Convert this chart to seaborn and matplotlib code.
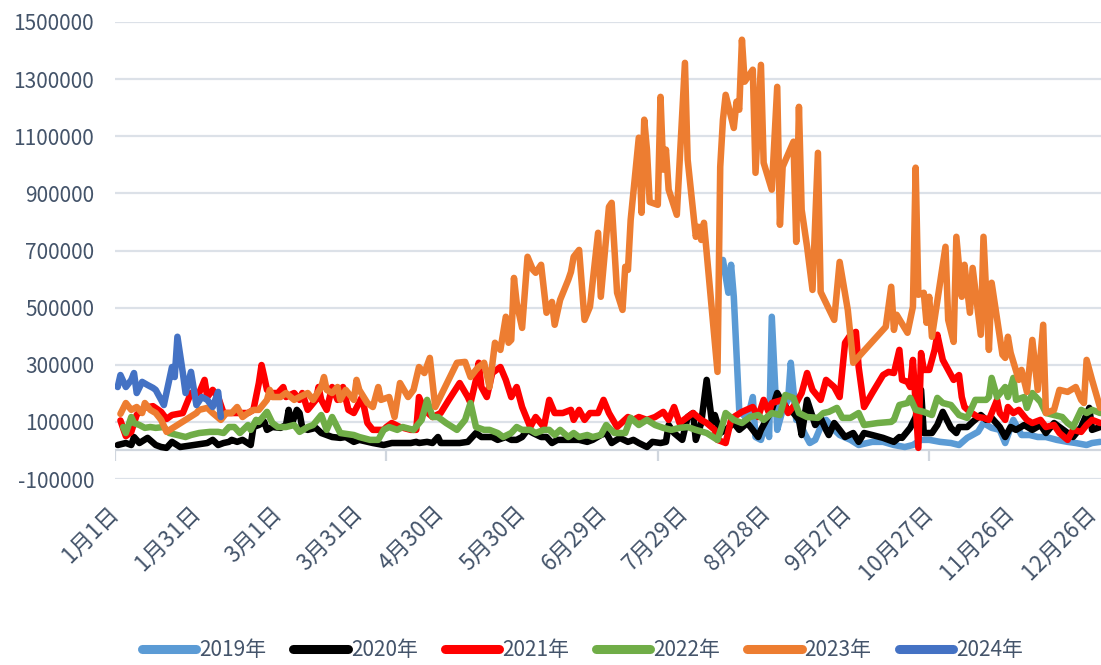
import matplotlib
matplotlib.use("Agg")
import matplotlib.pyplot as plt
import pandas as pd
import seaborn as sns
from matplotlib.lines import Line2D

sns.set_theme(style="white")
plt.rcParams["font.family"] = ["Noto Sans CJK SC", "DejaVu Sans"]

YEARS = ["2019年", "2020年", "2021年", "2022年", "2023年", "2024年"]
COLORS = ["#5B9BD5", "#000000", "#FF0000", "#70AD47", "#ED7D31", "#4472C4"]

# day of year (0 = Jan 1) and daily value for each year
DAYS_2019 = [224, 226, 227, 228, 230, 233, 235, 236, 238, 240, 241, 242, 244, 246, 248, 249,
             251, 252, 254, 256, 258, 260, 262, 265, 267, 271, 274, 279, 283, 287, 291, 294,
             297, 300, 304, 308, 311, 314, 318, 320, 323, 326, 328, 331, 334, 337, 340, 343,
             347, 351, 354, 358, 360, 363]
VALUES_2019 = [667000, 552000, 650000, 538000, 142000, 107000, 187000, 47000, 37000, 107000,
               47000, 468000, 72000, 142000, 177000, 307000, 107000, 107000, 61000, 26000,
               37000, 82000, 107000, 72000, 54000, 37000, 19000, 30000, 30000, 19000, 12000,
               19000, 37000, 37000, 30000, 26000, 19000, 44000, 65000, 96000, 79000, 72000,
               26000, 107000, 54000, 54000, 47000, 47000, 37000, 30000, 26000, 19000, 26000,
               30000]

DAYS_2020 = [1, 4, 6, 7, 9, 12, 15, 17, 19, 21, 24, 29, 34, 36, 38, 40, 42, 43, 45, 47, 50,
             51, 53, 55, 56, 58, 61, 63, 64, 65, 67, 68, 69, 71, 74, 76, 78, 80, 83, 85, 88,
             90, 95, 99, 102, 106, 109, 111, 112, 115, 117, 119, 120, 123, 127, 130, 133, 135,
             137, 139, 141, 144, 146, 148, 150, 152, 154, 157, 159, 161, 163, 166, 168, 171,
             174, 176, 179, 181, 183, 186, 189, 191, 193, 196, 198, 201, 203, 204, 206, 209,
             211, 213, 214, 216, 218, 220, 221, 223, 225, 228, 230, 233, 235, 237, 238, 240,
             242, 244, 246, 248, 250, 252, 253, 255, 258, 260, 262, 263, 265, 267, 269, 272,
             274, 276, 279, 283, 287, 289, 290, 293, 295, 297, 298, 301, 303, 305, 308, 310,
             311, 314, 316, 319, 321, 323, 326, 328, 330, 332, 335, 338, 341, 343, 346, 348,
             351, 353, 356, 359, 360, 363]
VALUES_2020 = [19000, 26000, 19000, 47000, 26000, 44000, 19000, 12000, 9000, 30000, 12000,
               19000, 26000, 37000, 19000, 26000, 30000, 37000, 30000, 37000, 19000, 82000,
               89000, 100000, 72000, 82000, 79000, 89000, 142000, 89000, 142000, 131000, 79000,
               72000, 79000, 61000, 54000, 47000, 44000, 47000, 30000, 37000, 26000, 19000,
               26000, 26000, 26000, 30000, 26000, 30000, 26000, 47000, 26000, 26000, 26000,
               30000, 61000, 47000, 47000, 47000, 37000, 47000, 37000, 37000, 47000, 72000,
               61000, 47000, 47000, 26000, 37000, 37000, 37000, 37000, 30000, 37000, 54000,
               61000, 26000, 44000, 30000, 37000, 26000, 12000, 30000, 26000, 30000, 89000,
               61000, 37000, 117000, 131000, 37000, 96000, 247000, 96000, 124000, 61000, 72000,
               96000, 72000, 96000, 72000, 47000, 72000, 107000, 142000, 201000, 166000,
               142000, 131000, 107000, 54000, 177000, 89000, 114000, 72000, 54000, 96000,
               72000, 47000, 61000, 30000, 61000, 54000, 44000, 30000, 47000, 44000, 79000,
               117000, 212000, 61000, 61000, 89000, 135000, 79000, 61000, 82000, 82000, 100000,
               124000, 107000, 114000, 82000, 47000, 82000, 72000, 89000, 72000, 89000, 61000,
               96000, 82000, 61000, 47000, 82000, 149000, 72000, 82000]

DAYS_2021 = [2, 4, 6, 8, 11, 14, 17, 19, 21, 25, 27, 28, 31, 33, 34, 36, 38, 40, 43, 49, 51,
             53, 54, 55, 56, 58, 60, 62, 63, 66, 68, 69, 71, 74, 75, 76, 78, 80, 82, 84, 86,
             88, 91, 93, 95, 99, 100, 102, 105, 109, 111, 112, 114, 117, 120, 123, 127, 130,
             131, 133, 134, 135, 137, 139, 142, 144, 146, 148, 150, 153, 155, 158, 160, 162,
             165, 168, 169, 171, 173, 175, 178, 180, 182, 185, 189, 191, 193, 196, 199, 202,
             204, 206, 208, 211, 213, 216, 218, 221, 222, 225, 227, 228, 231, 235, 237, 239,
             241, 242, 246, 248, 251, 253, 255, 257, 260, 262, 265, 267, 269, 271, 273, 274,
             276, 279, 283, 285, 287, 289, 290, 292, 293, 294, 296, 297, 298, 300, 302, 303,
             305, 307, 309, 311, 312, 313, 315, 318, 320, 322, 325, 326, 328, 329, 331, 333,
             336, 338, 341, 343, 346, 348, 351, 353, 356, 358, 360, 363]
VALUES_2021 = [105000, 50000, 65000, 125000, 150000, 155000, 135000, 110000, 124000, 131000,
               177000, 201000, 201000, 247000, 187000, 212000, 187000, 131000, 131000, 131000,
               142000, 236000, 299000, 257000, 212000, 201000, 201000, 222000, 187000, 201000,
               177000, 201000, 142000, 177000, 222000, 177000, 142000, 222000, 177000, 222000,
               142000, 131000, 187000, 96000, 72000, 72000, 82000, 96000, 82000, 72000, 72000,
               187000, 142000, 117000, 131000, 177000, 236000, 187000, 166000, 247000, 307000,
               222000, 187000, 271000, 292000, 247000, 187000, 222000, 152000, 82000, 117000,
               82000, 177000, 131000, 131000, 142000, 107000, 142000, 107000, 131000, 131000,
               177000, 131000, 82000, 117000, 107000, 117000, 107000, 117000, 135000, 107000,
               152000, 96000, 117000, 131000, 107000, 96000, 72000, 37000, 26000, 107000,
               117000, 135000, 152000, 117000, 177000, 131000, 166000, 177000, 131000, 166000,
               201000, 271000, 212000, 177000, 247000, 222000, 187000, 377000, 405000, 415000,
               292000, 152000, 201000, 264000, 275000, 271000, 352000, 247000, 240000, 222000,
               317000, 9000, 341000, 282000, 282000, 352000, 405000, 317000, 282000, 247000,
               264000, 187000, 152000, 135000, 117000, 114000, 107000, 177000, 131000, 107000,
               152000, 131000, 142000, 107000, 96000, 107000, 82000, 89000, 61000, 37000,
               72000, 65000, 89000, 107000, 96000]

DAYS_2022 = [3, 4, 6, 7, 9, 11, 13, 15, 18, 20, 23, 26, 28, 31, 35, 38, 40, 42, 44, 46, 49,
             50, 52, 53, 56, 58, 60, 63, 66, 68, 71, 73, 76, 78, 80, 83, 88, 90, 94, 97, 99,
             101, 104, 106, 110, 113, 115, 117, 119, 122, 126, 129, 131, 133, 136, 138, 141,
             143, 146, 148, 150, 153, 155, 158, 160, 162, 164, 167, 169, 171, 174, 176, 179,
             181, 184, 188, 190, 193, 196, 199, 202, 205, 208, 211, 214, 218, 222, 224, 225,
             228, 231, 234, 237, 239, 242, 245, 247, 250, 252, 255, 259, 261, 263, 266, 268,
             271, 274, 276, 281, 286, 287, 289, 292, 293, 295, 298, 301, 303, 305, 308, 311,
             314, 317, 321, 322, 323, 325, 328, 329, 331, 332, 335, 336, 338, 341, 343, 346,
             349, 351, 353, 356, 358, 360, 363]
VALUES_2022 = [82000, 61000, 117000, 96000, 89000, 79000, 82000, 79000, 82000, 61000, 54000,
               47000, 54000, 61000, 65000, 65000, 61000, 82000, 82000, 61000, 89000, 72000,
               107000, 100000, 135000, 96000, 82000, 82000, 89000, 65000, 82000, 89000, 124000,
               72000, 117000, 61000, 54000, 47000, 37000, 37000, 72000, 82000, 72000, 82000,
               72000, 107000, 177000, 117000, 117000, 96000, 72000, 107000, 166000, 82000,
               72000, 72000, 61000, 47000, 61000, 82000, 72000, 72000, 61000, 72000, 72000,
               54000, 72000, 47000, 61000, 47000, 54000, 47000, 54000, 89000, 61000, 61000,
               114000, 89000, 107000, 89000, 79000, 72000, 79000, 82000, 72000, 61000, 37000,
               96000, 131000, 107000, 96000, 117000, 124000, 107000, 131000, 124000, 194000,
               184000, 131000, 117000, 114000, 131000, 135000, 149000, 114000, 114000, 131000,
               89000, 96000, 100000, 107000, 159000, 166000, 184000, 142000, 135000, 124000,
               184000, 166000, 159000, 124000, 114000, 177000, 177000, 187000, 254000, 187000,
               222000, 187000, 254000, 177000, 187000, 149000, 201000, 170000, 131000, 124000,
               117000, 96000, 82000, 142000, 131000, 142000, 131000]

DAYS_2023 = [2, 4, 6, 8, 10, 11, 13, 15, 17, 19, 30, 31, 34, 36, 39, 41, 43, 45, 47, 49, 51,
             53, 56, 57, 58, 61, 63, 66, 68, 71, 73, 76, 77, 78, 80, 82, 83, 85, 88, 89, 90,
             93, 95, 97, 98, 101, 103, 105, 108, 110, 112, 114, 116, 118, 126, 129, 131, 133,
             134, 136, 138, 140, 142, 144, 145, 146, 147, 148, 150, 152, 154, 155, 157, 159,
             161, 162, 164, 167, 168, 169, 171, 173, 175, 178, 179, 182, 183, 185, 187, 188,
             189, 190, 193, 194, 195, 196, 197, 200, 201, 202, 203, 204, 207, 210, 211, 214,
             215, 216, 217, 222, 223, 224, 225, 228, 229, 230, 231, 232, 235, 236, 238, 239,
             242, 244, 245, 246, 250, 251, 252, 253, 255, 257, 259, 260, 265, 267, 270, 272,
             284, 286, 287, 288, 292, 294, 295, 296, 298, 299, 300, 301, 306, 307, 309, 310,
             312, 313, 315, 316, 319, 320, 322, 323, 327, 328, 329, 330, 333, 334, 336, 338,
             340, 342, 343, 346, 348, 351, 354, 356, 357, 358, 360, 363]
VALUES_2023 = [128000, 166000, 142000, 152000, 131000, 166000, 142000, 131000, 107000, 65000,
               131000, 142000, 149000, 131000, 107000, 131000, 131000, 152000, 117000, 131000,
               142000, 142000, 177000, 212000, 187000, 187000, 201000, 177000, 187000, 201000,
               177000, 222000, 257000, 212000, 201000, 222000, 177000, 212000, 177000, 247000,
               212000, 166000, 152000, 222000, 177000, 187000, 117000, 236000, 187000, 212000,
               292000, 271000, 324000, 152000, 307000, 310000, 257000, 282000, 292000, 307000,
               222000, 377000, 352000, 468000, 377000, 387000, 604000, 517000, 429000, 678000,
               632000, 622000, 650000, 482000, 520000, 440000, 527000, 597000, 625000, 678000,
               702000, 457000, 503000, 762000, 538000, 853000, 867000, 552000, 492000, 643000,
               632000, 807000, 1095000, 832000, 1158000, 1053000, 870000, 860000, 1238000,
               983000, 1053000, 913000, 825000, 1357000, 1018000, 748000, 783000, 737000,
               797000, 275000, 993000, 1158000, 1245000, 1129000, 1221000, 1193000, 1438000,
               1291000, 1333000, 972000, 1350000, 1007000, 913000, 1273000, 790000, 993000,
               1081000, 730000, 1203000, 843000, 713000, 562000, 1042000, 555000, 457000,
               660000, 492000, 307000, 433000, 573000, 422000, 475000, 412000, 503000, 990000,
               545000, 552000, 447000, 538000, 398000, 713000, 457000, 380000, 748000, 538000,
               650000, 482000, 639000, 405000, 748000, 352000, 587000, 335000, 324000, 398000,
               342000, 247000, 282000, 205000, 387000, 212000, 440000, 131000, 142000, 212000,
               205000, 222000, 177000, 166000, 317000, 247000, 149000]

DAYS_2024 = [1, 2, 4, 6, 7, 8, 10, 12, 14, 15, 17, 18, 21, 22, 23, 25, 26, 28, 30, 32, 34,
             36, 38, 39]
VALUES_2024 = [222000, 264000, 222000, 247000, 271000, 201000, 240000, 229000, 219000, 212000,
               177000, 159000, 292000, 257000, 398000, 271000, 201000, 275000, 159000, 187000,
               177000, 152000, 205000, 117000]

X_TICK_DAYS = [0, 30, 60, 90, 120, 150, 180, 210, 240, 270, 300, 330, 360]
X_TICK_LABELS = ["1月1日", "1月31日", "3月1日", "3月31日", "4月30日", "5月30日", "6月29日",
                 "7月29日", "8月28日", "9月27日", "10月27日", "11月26日", "12月26日"]
AXIS_MARK_DAYS = [0, 100, 200, 300]
Y_TICKS = list(range(-100000, 1500001, 200000))

TEXT_COLOR = "#44546A"
GRID_COLOR = "#DCE1E8"

series = [
    (DAYS_2019, VALUES_2019), (DAYS_2020, VALUES_2020), (DAYS_2021, VALUES_2021),
    (DAYS_2022, VALUES_2022), (DAYS_2023, VALUES_2023), (DAYS_2024, VALUES_2024),
]
df = pd.concat(
    [pd.DataFrame({"day": d, "value": v, "year": y}) for y, (d, v) in zip(YEARS, series)],
    ignore_index=True,
)

fig = plt.figure(figsize=(11.01, 6.65), dpi=100)
ax = fig.add_axes([115 / 1101, (665 - 479) / 665, 1 - 115 / 1101, (479 - 22) / 665])

sns.lineplot(
    data=df, x="day", y="value", hue="year", hue_order=YEARS,
    palette=dict(zip(YEARS, COLORS)), estimator=None, sort=False,
    linewidth=4.7, legend=False, ax=ax,
)
for line in ax.lines:
    line.set_solid_joinstyle("round")
    line.set_solid_capstyle("round")
    line.set_zorder(3)

ax.set_xlim(0, 363.3)
ax.set_ylim(-100000, 1500000)
ax.set_yticks(Y_TICKS)
ax.set_yticklabels([str(t) for t in Y_TICKS])
ax.set_xticks(X_TICK_DAYS)
ax.set_xticklabels(X_TICK_LABELS, rotation=45, ha="right", va="center",
                   rotation_mode="anchor")
ax.set_xlabel("")
ax.set_ylabel("")

for s in ax.spines.values():
    s.set_visible(False)
ax.grid(axis="y", color=GRID_COLOR, linewidth=1.6)
ax.grid(axis="x", visible=False)
ax.set_axisbelow(True)

# horizontal category axis at zero with sparse outward tick marks
ax.axhline(0, color="#D0D6DE", linewidth=1.6, zorder=1)
ax.vlines(AXIS_MARK_DAYS, -36000, 0, color="#D0D6DE", linewidth=1.6, zorder=1)

ax.tick_params(axis="both", length=0, labelcolor=TEXT_COLOR)
ax.tick_params(axis="y", pad=15, labelsize=15)
ax.tick_params(axis="x", pad=22, labelsize=16)

handles = [Line2D([0], [0], color=c, linewidth=6.5, solid_capstyle="round") for c in COLORS]
fig.legend(handles, YEARS, loc="center", bbox_to_anchor=(0.529, 15 / 665), ncol=6,
           frameon=False, handlelength=2.6, handletextpad=0.15, columnspacing=1.3,
           fontsize=15, labelcolor=TEXT_COLOR)

fig.savefig("out.png", dpi=100)
